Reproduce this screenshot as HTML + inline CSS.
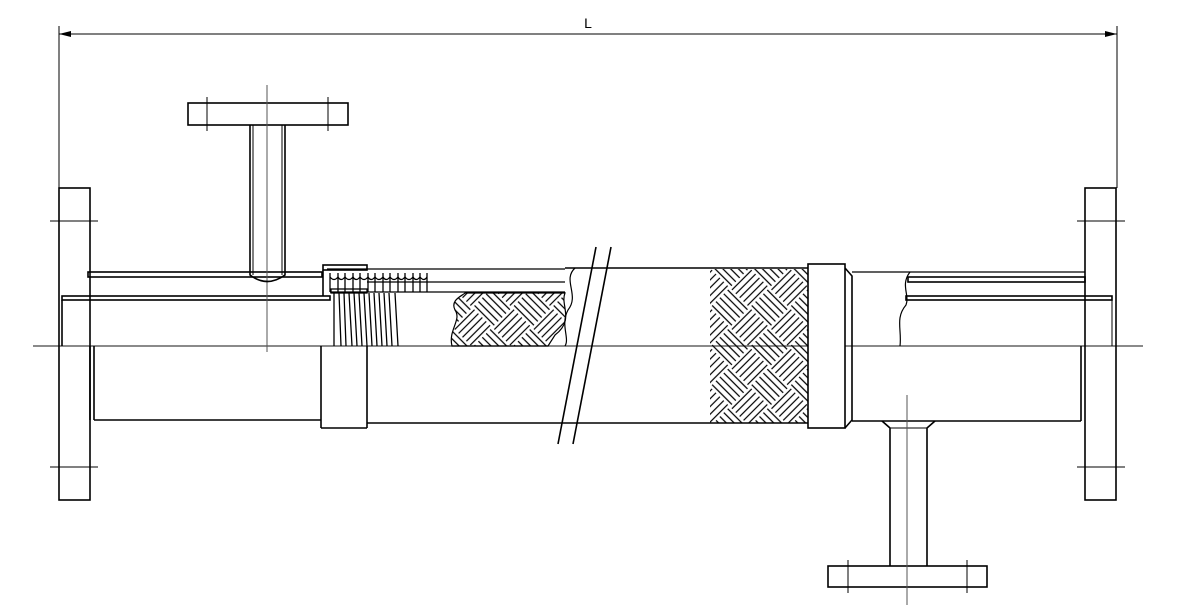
<!DOCTYPE html>
<html><head><meta charset="utf-8"><style>html,body{margin:0;padding:0;background:#fff}svg{display:block}</style></head>
<body>
<svg width="1200" height="605" viewBox="0 0 1200 605" xmlns="http://www.w3.org/2000/svg" fill="none" stroke="#000" stroke-width="1.6">
<defs>
<pattern id="weave" x="0" y="0" width="56" height="56" patternUnits="userSpaceOnUse" patternTransform="translate(710 268) rotate(45)">
<path d="M3 0V28 M8.5 0V28 M14 0V28 M19.5 0V28 M25 0V28 M31 28V56 M36.5 28V56 M42 28V56 M47.5 28V56 M53 28V56 M28 3H56 M28 8.5H56 M28 14H56 M28 19.5H56 M28 25H56 M0 31H28 M0 36.5H28 M0 42H28 M0 47.5H28 M0 53H28" stroke="#000" stroke-width="1.2"/>
</pattern>
</defs>
<!-- dimension -->
<line x1="59" y1="34" x2="1117" y2="34" stroke-width="1"/>
<path d="M59 34 l12 -3 v6 z M1117 34 l-12 -3 v6 z" fill="#000" stroke="none"/>
<line x1="59" y1="26" x2="59" y2="188" stroke-width="1"/>
<line x1="1117" y1="26" x2="1117" y2="188" stroke-width="1"/>
<text x="588" y="28" font-family="Liberation Sans, sans-serif" font-size="14" fill="#000" stroke="none" text-anchor="middle">L</text>
<!-- centerline -->
<line x1="33" y1="346" x2="1143" y2="346" stroke="#444" stroke-width="1.2"/>
<!-- flanges -->
<rect x="59" y="188" width="31" height="312"/>
<rect x="1085" y="188" width="31" height="312"/>
<line x1="50" y1="221" x2="98" y2="221" stroke-width="1"/>
<line x1="50" y1="467" x2="98" y2="467" stroke-width="1"/>
<line x1="1077" y1="221" x2="1125" y2="221" stroke-width="1"/>
<line x1="1077" y1="467" x2="1125" y2="467" stroke-width="1"/>
<!-- left pipe -->
<rect x="88" y="272" width="234" height="5"/>
<rect x="62" y="296" width="268" height="4"/>
<line x1="62" y1="300" x2="62" y2="346"/>
<line x1="90" y1="346" x2="90" y2="420"/><line x1="94" y1="346" x2="94" y2="420"/>
<line x1="94" y1="420" x2="321" y2="420"/>
<line x1="321" y1="346" x2="321" y2="428"/>
<!-- collar -->
<line x1="367" y1="346" x2="367" y2="428"/><line x1="321" y1="428" x2="367" y2="428"/>
<rect x="323" y="265" width="44" height="5"/>
<line x1="323" y1="270" x2="323" y2="296"/>
<!-- bellows -->
<g stroke-width="1.3">
<line x1="327" y1="269" x2="565" y2="269"/><line x1="367" y1="282" x2="565" y2="282"/>
<line x1="330" y1="292" x2="565" y2="292"/>
<path d="M330 292 V273 M338 292 V273 M345 292 V273 M353 292 V273 M360 292 V273 M368 292 V273 M375 292 V273 M383 292 V273 M390 292 V273 M398 292 V273 M405 292 V273 M413 292 V273 M420 292 V273 M427 292 V273"/>
<path d="M330 277 q4 5 8 0 q3 5 7 0 q4 5 8 0 q3 5 7 0 q4 5 8 0 q3 5 7 0 q4 5 8 0 q3 5 7 0 q4 5 8 0 q3 5 7 0 q4 5 8 0 q3 5 7 0 q4 5 7 0"/>
<rect x="331" y="289" width="36" height="4"/>
<path d="M334 293 V346 M339 293 L341 346 M344 293 L346 346 M349 293 L352 346 M354 293 L357 346 M359 293 L362 346 M364 293 L367 346 M369 293 L372 346 M374 293 L377 346 M379 293 L382 346 M384 293 L387 346 M389 293 L392 346 M395 293 L398 346"/>
</g>
<!-- left braid cutaway -->
<path d="M465 293 H565 C560 305 575 320 555 335 L548 346 H452 C448 330 462 320 455 310 C450 300 462 296 465 293 Z" fill="url(#weave)" stroke-width="1.2"/>
<!-- hose -->
<line x1="565" y1="268" x2="808" y2="268"/>
<line x1="367" y1="423" x2="808" y2="423"/>
<path d="M575 268 C562 280 580 295 568 310 C560 325 570 338 565 346" stroke-width="1.2"/>
<line x1="596" y1="247" x2="558" y2="444"/>
<line x1="611" y1="247" x2="573" y2="444"/>
<rect x="710" y="269" width="98" height="154" fill="url(#weave)" stroke="none"/>
<!-- right collar -->
<rect x="808" y="264" width="37" height="164" fill="#fff"/>
<path d="M845 268 L852 276 V420 L845 428"/>
<!-- right pipe -->
<line x1="852" y1="272" x2="1085" y2="272" stroke-width="1.2"/>
<rect x="908" y="277" width="177" height="5"/>
<rect x="906" y="296" width="206" height="4"/>
<line x1="1112" y1="300" x2="1112" y2="346" stroke-width="1"/>
<path d="M910 272 C900 285 910 295 906 305 C895 318 902 330 900 346" stroke-width="1.2"/>
<line x1="852" y1="421" x2="1081" y2="421"/>
<line x1="1081" y1="346" x2="1081" y2="421"/>
<!-- left branch -->
<rect x="188" y="103" width="160" height="22"/>
<line x1="207" y1="97" x2="207" y2="131" stroke-width="1"/>
<line x1="328" y1="97" x2="328" y2="131" stroke-width="1"/>
<line x1="267" y1="85" x2="267" y2="352" stroke="#555" stroke-width="1"/>
<path d="M250 125 V275 Q267 288 285 275 V125"/>
<path d="M253 125 V275 M282 125 V275" stroke-width="1"/>
<!-- right branch -->
<path d="M882 421 L890 428 V566 M935 421 L927 428 V566"/>
<line x1="890" y1="428" x2="927" y2="428" stroke-width="1"/>
<rect x="828" y="566" width="159" height="21"/>
<line x1="848" y1="560" x2="848" y2="593" stroke-width="1"/>
<line x1="967" y1="560" x2="967" y2="593" stroke-width="1"/>
<line x1="907" y1="395" x2="907" y2="605" stroke="#555" stroke-width="1"/>
</svg>
</body></html>
